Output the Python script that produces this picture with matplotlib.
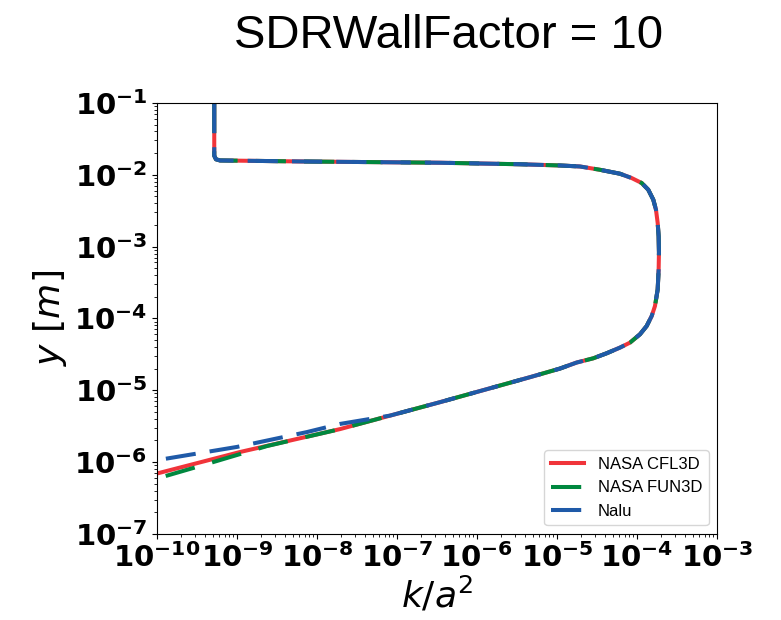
import numpy as np
import matplotlib
matplotlib.use("Agg")
from matplotlib import pyplot as plt

# profile, log10 values (k/a^2, y)
# shared part of the curve, from the top of the domain down to ~7e-6 m
lk_common = [-9.284, -9.284, -9.2625, -9.2125, -8.2125, -6.4625, -5.4625, -4.9625, -4.7125,
             -4.4625, -4.2125, -4.066, -3.941, -3.859, -3.796, -3.7625, -3.741, -3.729,
             -3.725, -3.729, -3.741, -3.775, -3.816, -3.879, -3.9625, -4.0875, -4.2125,
             -4.379, -4.546, -4.754, -4.9625, -5.3375, -6.4625]
ly_common = [-1.0, -1.736, -1.785, -1.801, -1.815, -1.833, -1.854, -1.871, -1.885,
             -1.931, -1.986, -2.046, -2.115, -2.208, -2.347, -2.486, -2.671, -2.857,
             -3.083, -3.319, -3.597, -3.829, -3.968, -4.107, -4.222, -4.338, -4.407,
             -4.486, -4.556, -4.615, -4.699, -4.819, -5.167]

# near-wall tails, each code
lk_cfl3d = [-7.7125, -8.9625, -9.975, -10.2]
ly_cfl3d = [-5.542, -5.861, -6.153, -6.21]
lk_fun3d = [-7.7125, -8.625, -9.4625, -9.975, -10.2]
ly_fun3d = [-5.542, -5.778, -6.056, -6.222, -6.28]
lk_nalu = [-7.0875, -7.7125, -8.125, -9.0, -9.975, -10.2]
ly_nalu = [-5.354, -5.47, -5.583, -5.79, -5.97, -6.02]

names = ['NASA CFL3D', 'NASA FUN3D', 'Nalu']
colors = ['#f0343a', '#00883f', '#1f5aa8']

plt.rcParams['mathtext.fontset'] = 'dejavusans'

fig = plt.figure(figsize=(7.81, 6.2), dpi=100)
ax = fig.add_axes([0.201, 0.139, 0.717, 0.695])

k1 = 10 ** np.array(lk_common + lk_cfl3d)
y1 = 10 ** np.array(ly_common + ly_cfl3d)
k2 = 10 ** np.array(lk_common + lk_fun3d)
y2 = 10 ** np.array(ly_common + ly_fun3d)
k3 = 10 ** np.array(lk_common + lk_nalu)
y3 = 10 ** np.array(ly_common + ly_nalu)

ax.plot(k1, y1, '-', color=colors[0], lw=2.9, label=names[0])
ax.plot(k2, y2, '--', color=colors[1], lw=2.9, dashes=(7.5, 4.5), label=names[1])
ax.plot(k3, y3, '--', color=colors[2], lw=2.9, dashes=(7.5, 3.5), label=names[2])

ax.set_xscale('log')
ax.set_yscale('log')
xexp = np.arange(-10, -2)
yexp = np.arange(-7, 0)
ax.set_xticks(10.0 ** xexp, [r'$\mathdefault{10^{%d}}$' % e for e in xexp],
              fontsize=21, fontweight='bold')
ax.set_yticks(10.0 ** yexp, [r'$\mathdefault{10^{%d}}$' % e for e in yexp],
              fontsize=21, fontweight='bold')
ax.set_xlim(1e-10, 1e-3)
ax.set_ylim(1e-7, 1e-1)

ax.set_xlabel(r'$k/a^2$', fontsize=26, labelpad=1)
ax.set_ylabel(r'$y$ $[m]$', fontsize=26)

fig.text(0.574, 0.9226, 'SDRWallFactor = 10', ha='center', va='baseline',
         fontsize=34, family='Liberation Sans')

ax.legend(loc='lower right', prop={'family': 'Liberation Sans', 'size': 12})

fig.savefig('out.png', dpi=100)
